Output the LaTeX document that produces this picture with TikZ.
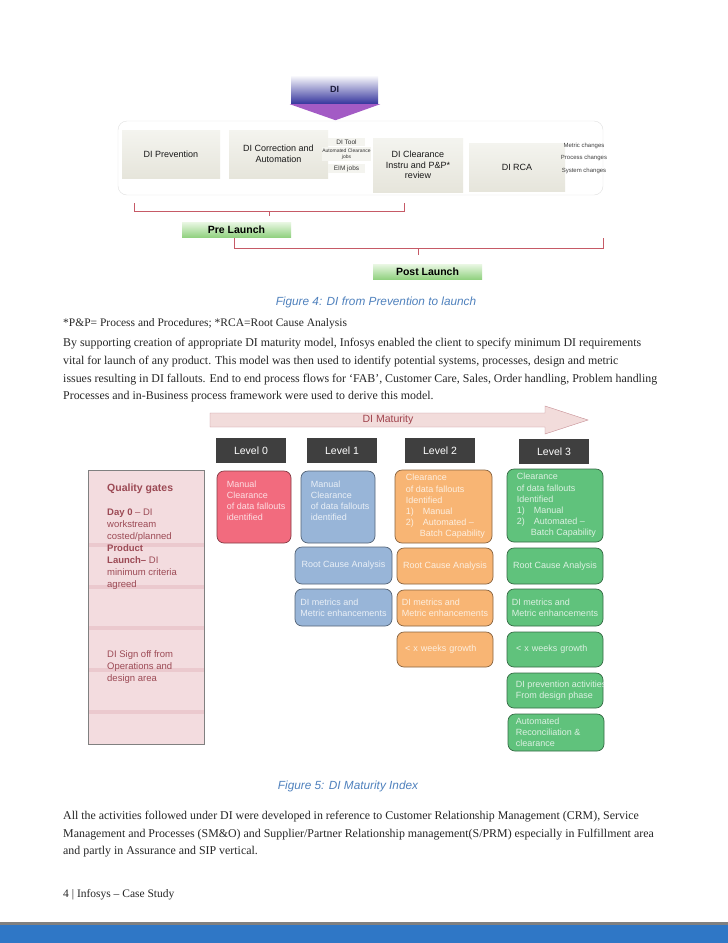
\documentclass[tikz,border=0pt]{standalone}
\usepackage{fontspec}
\setmainfont{Liberation Serif}
\setsansfont{Liberation Sans}
\usepackage{tikz}
\usetikzlibrary{arrows.meta, positioning, calc}
\definecolor{capblue}{HTML}{4F81BD}
\definecolor{barblue}{HTML}{2F77C6}
\definecolor{dinavy}{HTML}{1A1A3A}
\definecolor{diblue}{HTML}{3B3BA0}
\definecolor{dipurple}{HTML}{A35BC5}
\definecolor{stagetop}{HTML}{F4F4EF}
\definecolor{stagebot}{HTML}{E6E5DB}
\definecolor{launchtop}{HTML}{EAF7E4}
\definecolor{launchbot}{HTML}{92D281}
\definecolor{bracketred}{HTML}{C65A66}
\definecolor{matpink}{HTML}{F2DCDB}
\definecolor{matred}{HTML}{A0424C}
\definecolor{lvlgray}{HTML}{3F3F3F}
\definecolor{gatepink}{HTML}{F3DCDF}
\definecolor{gateband}{HTML}{EBC9CE}
\definecolor{gatetext}{HTML}{9C4A55}
\definecolor{zeropink}{HTML}{F26B7E}
\definecolor{oneblue}{HTML}{98B5D8}
\definecolor{twoorange}{HTML}{F8B574}
\definecolor{threegreen}{HTML}{60C27C}

\begin{document}
\begin{tikzpicture}[x=1pt, y=-1pt,
  every node/.style={inner sep=0pt},
  bodyline/.style={anchor=west, font=\fontsize{11.9}{13}\selectfont, text=black!85},
  figcaption/.style={font=\sffamily\itshape\fontsize{11.8}{13}\selectfont, text=capblue},
  stagebox/.style={top color=stagetop, bottom color=stagebot, align=center,
    font=\sffamily\fontsize{9}{10.5}\selectfont, text=black!90},
  toolbox/.style={fill=stagetop, minimum width=37pt, align=center,
    font=\sffamily\fontsize{6.5}{7}\selectfont, text=black!80},
  launchbox/.style={top color=launchtop, bottom color=launchbot, minimum width=109pt,
    minimum height=15pt, font=\sffamily\bfseries\fontsize{10.5}{12}\selectfont},
  bracket/.style={draw=bracketred, line width=0.9pt},
  levelbox/.style={fill=lvlgray, text=white, minimum width=70pt, minimum height=25pt,
    font=\sffamily\fontsize{10.5}{12}\selectfont},
  gatetxt/.style={anchor=north west, align=left, text=gatetext,
    font=\sffamily\fontsize{9.5}{12}\selectfont},
  mbox/.style={rounded corners=7pt, line width=0.7pt, align=left,
    font=\sffamily\fontsize{9}{11.2}\selectfont},
  mtext/.style={anchor=north west, align=left, font=\sffamily\fontsize{9}{11.2}\selectfont},
  zerobox/.style={mbox, fill=zeropink, draw=zeropink!55!black, text=zeropink!22!white},
  onebox/.style={mbox, fill=oneblue, draw=oneblue!55!black, text=oneblue!20!white},
  twobox/.style={mbox, fill=twoorange, draw=twoorange!55!black, text=twoorange!22!white},
  threebox/.style={mbox, fill=threegreen, draw=threegreen!55!black, text=threegreen!22!white}]
  \useasboundingbox[fill=white] (0,0) rectangle (728,943);

  % figure 4: DI header
  \node[top color=white, bottom color=diblue, minimum width=87pt, minimum height=28pt,
        font=\sffamily\bfseries\fontsize{9}{10}\selectfont, text=dinavy] (di) at (334.5,89) {DI};
  \fill[dipurple] ($(di.south west)+(-1,1)$) -- ($(di.south east)+(2,1)$) -- ($(di.south)+(1,17)$) -- cycle;
  \draw[black!12, rounded corners=9pt] (118,121) rectangle (603,195);
  % stages
  \node[stagebox, minimum width=98pt, minimum height=48pt] (prevent) at (171,154) {DI Prevention};
  \node[stagebox, minimum width=99pt, minimum height=48pt] (correct) at (278.5,154) {DI Correction and\\Automation};
  \node[toolbox, minimum height=8pt] (ditool) at (346.5,142) {DI Tool};
  \node[toolbox, minimum height=14pt, font=\sffamily\fontsize{5}{5.5}\selectfont] (autojobs) at (346.5,154) {Automated Clearance\\jobs};
  \node[toolbox, minimum height=9pt] (eimjobs) at (346.5,168.5) {EIM jobs};
  \node[stagebox, minimum width=90pt, minimum height=54pt] (clearance) at (418,165) {DI Clearance\\Instru and P\&P*\\review};
  \node[stagebox, minimum width=96pt, minimum height=48pt] (dirca) at (517,167) {DI RCA};
  \foreach \t/\y in {Metric changes/146, Process changes/158, System changes/171}
    \node[font=\sffamily\fontsize{6}{6.5}\selectfont, text=black!75] (change\y) at (584,\y) {\t};
  % launch brackets
  \coordinate (preA) at (134,203);
  \coordinate (preB) at (404,203);
  \coordinate (pretick) at (269,211);
  \draw[bracket] (preA) -- ++(0,8) -| (preB);
  \draw[bracket] (pretick) -- ++(0,5);
  \node[launchbox] (prelaunch) at (236.5,229.5) {Pre Launch};
  \coordinate (postA) at (234,238);
  \coordinate (postB) at (603,238);
  \coordinate (posttick) at (418,248);
  \draw[bracket] (postA) -- ++(0,10) -| (postB);
  \draw[bracket] (posttick) -- ++(0,7);
  \node[launchbox] (postlaunch) at (427.5,271.5) {Post Launch};
  \node[figcaption] (cap4) at (376,302) {Figure 4: DI from Prevention to launch};

  % text between the figures
  \node[bodyline, font=\fontsize{11.5}{13}\selectfont] (note) at (63,324) {*P\&P= Process and Procedures; *RCA=Root Cause Analysis};
  \node[bodyline] (para1) at (63,344) {By supporting creation of appropriate DI maturity model, Infosys enabled the client to specify minimum DI requirements};
  \node[bodyline] (para2) at (63,362) {vital for launch of any product. This model was then used to identify potential systems, processes, design and metric};
  \node[bodyline] (para3) at (63,380) {issues resulting in DI fallouts. End to end process flows for ‘FAB’, Customer Care, Sales, Order handling, Problem handling};
  \node[bodyline] (para4) at (63,397) {Processes and in-Business process framework were used to derive this model.};

  % figure 5: maturity arrow and levels
  \draw[draw=matred!60, fill=matpink] (210,413) -- (545,413) -- (545,406) -- (588,420)
    -- (545,434) -- (545,427) -- (210,427) -- cycle;
  \node[font=\sffamily\fontsize{10.5}{12}\selectfont, text=matred] (maturity) at (388,420) {DI Maturity};
  \foreach \n/\x/\y in {0/251/450.5, 1/342/450.5, 2/440/450.5, 3/554/451.5}
    \node[levelbox] (level\n) at (\x,\y) {Level \n};

  % quality gates column
  \node[fill=gatepink, minimum width=116pt, minimum height=274pt] (gates) at (146,607) {};
  \foreach \y in {545,587,628,670,712} {
    \fill[gateband] (88,\y-2) rectangle (204,\y+2);
    \draw[black!55, line width=1pt] (88,\y-2) -- (88,\y+2) (204,\y-2) -- (204,\y+2);
  }
  \draw[black!50, line width=0.6pt] (gates.north west) rectangle (gates.south east);
  \node[gatetxt] (gates-top) at (107,483.5) {{\bfseries\fontsize{10.5}{12}\selectfont Quality gates}\\[12pt]
    {\bfseries Day 0} – DI\\workstream\\costed/planned\\{\bfseries Product}\\{\bfseries Launch–} DI\\minimum criteria\\agreed};
  \node[gatetxt] (gates-sign) at (107,650.5) {DI Sign off from\\Operations and\\design area};

  % level 0
  \node[zerobox, minimum width=74pt, minimum height=72pt] (zero-clear) at (254,507) {};
  \node[mtext, text=zeropink!22!white] (zero-clear-t) at ([xshift=10pt, yshift=-10pt]zero-clear.north west)
    {Manual\\Clearance\\of data fallouts\\identified};
  % level 1
  \node[onebox, minimum width=74pt, minimum height=72pt] (one-clear) at (338,507) {};
  \node[mtext, text=oneblue!20!white] (one-clear-t) at ([xshift=10pt, yshift=-10pt]one-clear.north west)
    {Manual\\Clearance\\of data fallouts\\identified};
  \node[onebox, minimum width=97pt, minimum height=37pt] (one-rca) at (343.5,565.5) {Root Cause Analysis};
  \node[onebox, minimum width=97pt, minimum height=37pt] (one-metric) at (343.5,607.5) {DI metrics and\\Metric enhancements};
  % level 2
  \node[twobox, minimum width=97pt, minimum height=73pt] (two-clear) at (443.5,506.5) {};
  \node[mtext, text=twoorange!22!white] (two-clear-t) at ([xshift=11pt, yshift=-4.5pt]two-clear.north west)
    {Clearance\\of data fallouts\\Identified\\\makebox[17pt][l]{1)}Manual\\\makebox[17pt][l]{2)}Automated –\\\hspace{14pt}Batch Capability};
  \node[twobox, minimum width=96pt, minimum height=36pt] (two-rca) at (445,566) {Root Cause Analysis};
  \node[twobox, minimum width=96pt, minimum height=36pt] (two-metric) at (445,608) {DI metrics and\\Metric enhancements};
  \node[twobox, minimum width=96pt, minimum height=35pt, text width=80pt] (two-weeks) at (445,649.5) {< x weeks growth};
  % level 3
  \node[threebox, minimum width=96pt, minimum height=73pt] (three-clear) at (555,505.5) {};
  \node[mtext, text=threegreen!22!white] (three-clear-t) at ([xshift=10pt, yshift=-4.5pt]three-clear.north west)
    {Clearance\\of data fallouts\\Identified\\\makebox[17pt][l]{1)}Manual\\\makebox[17pt][l]{2)}Automated –\\\hspace{14pt}Batch Capability};
  \node[threebox, minimum width=96pt, minimum height=36pt] (three-rca) at (555,566) {Root Cause Analysis};
  \node[threebox, minimum width=96pt, minimum height=37pt] (three-metric) at (555,607.5) {DI metrics and\\Metric enhancements};
  \node[threebox, minimum width=96pt, minimum height=35pt, text width=78pt] (three-weeks) at (555,649.5) {< x weeks growth};
  \node[threebox, minimum width=96pt, minimum height=35pt] (three-prevent) at (555,690.5) {};
  \begin{scope}
    \clip (three-prevent.south west) rectangle (three-prevent.north east);
    \node[mtext, anchor=west, text=threegreen!22!white] (three-prevent-t) at ([xshift=9pt]three-prevent.west)
      {DI prevention activities\\From design phase};
  \end{scope}
  \node[threebox, minimum width=96pt, minimum height=37pt] (three-auto) at (556,732.5) {};
  \node[mtext, anchor=west, text=threegreen!22!white] (three-auto-t) at ([xshift=8pt]three-auto.west)
    {Automated\\Reconciliation \&\\clearance};
  \node[figcaption] (cap5) at (348,786) {Figure 5: DI Maturity Index};

  % closing text and footer
  \node[bodyline] (para5) at (63,817) {All the activities followed under DI were developed in reference to Customer Relationship Management (CRM), Service};
  \node[bodyline] (para6) at (63,835) {Management and Processes (SM\&O) and Supplier/Partner Relationship management(S/PRM) especially in Fulfillment area};
  \node[bodyline] (para7) at (63,852) {and partly in Assurance and SIP vertical.};
  \node[bodyline, font=\fontsize{11.5}{13}\selectfont] (footer) at (63,895) {4 | Infosys – Case Study};
  \fill[black!50] (0,922) rectangle (728,925);
  \fill[barblue] (0,925) rectangle (728,943);
\end{tikzpicture}
\end{document}
